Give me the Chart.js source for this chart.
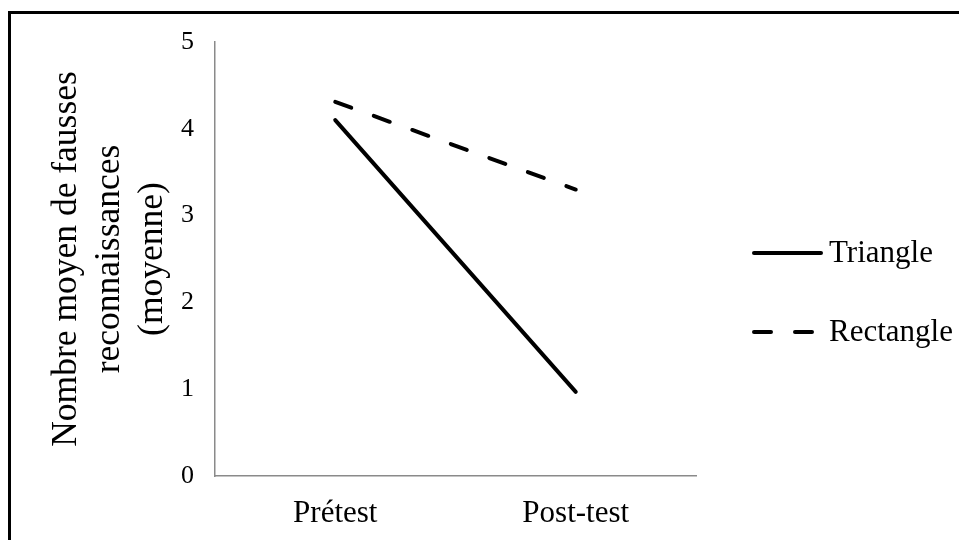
<!DOCTYPE html>
<html>
<head>
<meta charset="utf-8">
<script src="https://cdn.jsdelivr.net/npm/chart.js@4/dist/chart.umd.min.js"></script>
<style>
  html, body { margin: 0; padding: 0; background: #fff; overflow: hidden; }
  #wrap { position: relative; width: 959px; height: 540px; }
  #frame { position: absolute; left: 8px; top: 11px; width: 1200px; height: 800px; border: 3px solid #000; box-sizing: border-box; }
  canvas { position: absolute; left: 0; top: 0; }
</style>
</head>
<body>
<div id="wrap">
  <div id="frame"></div>
  <canvas id="c" width="959" height="540"></canvas>
</div>
<script>
const categories = ['Prétest', 'Post-test'];
const seriesNames = ['Triangle', 'Rectangle'];
const triangleValues = [4.1, 0.97];
const rectangleValues = [4.31, 3.3];
const yTicks = [0, 1, 2, 3, 4, 5];
const yTitle = ['Nombre moyen de fausses', 'reconnaissances', '(moyenne)'];

Chart.defaults.font.family = "'Liberation Serif', 'Times New Roman', serif";
Chart.defaults.color = '#000';

const legendPlugin = {
  id: 'sideLegend',
  afterDraw(chart) {
    const ctx = chart.ctx;
    const rows = [253, 332];
    chart.data.datasets.forEach((ds, i) => {
      const y = rows[i];
      ctx.save();
      ctx.strokeStyle = ds.borderColor;
      ctx.lineWidth = ds.borderWidth;
      ctx.lineCap = 'round';
      ctx.setLineDash(ds.borderDash || []);
      ctx.beginPath();
      ctx.moveTo(754, y);
      ctx.lineTo(821, y);
      ctx.stroke();
      ctx.setLineDash([]);
      ctx.fillStyle = '#000';
      ctx.font = "31px 'Liberation Serif', serif";
      ctx.textBaseline = 'middle';
      ctx.textAlign = 'left';
      ctx.fillText(ds.label, 829, y + 1);
      ctx.restore();
    });
  }
};

new Chart(document.getElementById('c'), {
  type: 'line',
  data: {
    labels: categories,
    datasets: [
      { label: seriesNames[0], data: triangleValues, borderColor: '#000', borderWidth: 4,
        borderCapStyle: 'round', pointRadius: 0, tension: 0, fill: false },
      { label: seriesNames[1], data: rectangleValues, borderColor: '#000', borderWidth: 4,
        borderCapStyle: 'round', borderDash: [17, 24], pointRadius: 0, tension: 0, fill: false }
    ]
  },
  options: {
    responsive: false,
    animation: false,
    devicePixelRatio: 1,
    layout: { padding: { left: 0, right: 263, top: 42, bottom: 0 } },
    plugins: { legend: { display: false }, tooltip: { enabled: false } },
    scales: {
      x: {
        offset: true,
        grid: { display: false, drawTicks: false },
        border: { display: true, color: '#8a8a8a', width: 1.5 },
        ticks: { padding: 19, font: { size: 31 }, color: '#000' },
        afterFit(scale) { scale.height = 64; }
      },
      y: {
        min: 0, max: 5,
        afterBuildTicks(scale) { scale.ticks = yTicks.map(v => ({ value: v })); },
        grid: { display: false, drawTicks: false },
        border: { display: true, color: '#8a8a8a', width: 1.5 },
        ticks: { padding: 21, font: { size: 26 }, color: '#000' },
        title: { display: true, text: yTitle, font: { size: 35.5, lineHeight: 1.21 }, color: '#000',
                 padding: { top: 45, bottom: 0 } },
        afterFit(scale) { scale.width = 215; }
      }
    }
  },
  plugins: [legendPlugin]
});
</script>
</body>
</html>
